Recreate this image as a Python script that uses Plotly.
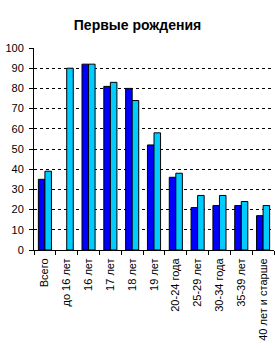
import plotly.graph_objects as go

categories = ["Всего", "до 16 лет", "16 лет", "17 лет", "18 лет", "19 лет",
              "20-24 года", "25-29 лет", "30-34 года", "35-39 лет", "40 лет и старше"]
series_a = [35, None, 92, 81, 80, 52, 36, 21, 22, 22, 17]
series_b = [39, 90, 92, 83, 74, 58, 38, 27, 27, 24, 22]
y_ticks = list(range(0, 101, 10))

fig = go.Figure()
fig.add_bar(x=categories, y=series_a, marker=dict(color="#0000FF", line=dict(color="black", width=1)))
fig.add_bar(x=categories, y=series_b, marker=dict(color="#00CCFF", line=dict(color="black", width=1)))

fig.update_layout(
    width=275, height=348,
    margin=dict(l=34, r=1, t=48, b=98),
    paper_bgcolor="white", plot_bgcolor="white",
    showlegend=False,
    barmode="group", bargap=0.4, bargroupgap=0,
    font=dict(family="Liberation Sans, Arial", size=11, color="black"),
    title=dict(text="<b>Первые рождения</b>", x=0.5, xanchor="center", y=0.928, yanchor="middle",
               font=dict(size=14, color="black")),
)
fig.update_xaxes(showline=True, linecolor="black", linewidth=1, ticks="outside", ticklen=4,
                 tickcolor="black", tickson="boundaries", tickangle=-90, showgrid=False,
                 ticklabelstandoff=3, tickfont=dict(size=11))
fig.update_yaxes(range=[0, 100], tickvals=y_ticks, showline=True, linecolor="black", linewidth=1,
                 ticks="outside", ticklen=4, tickcolor="black", showgrid=True, gridcolor="black",
                 griddash="3px,3px", gridwidth=1, zeroline=False, ticklabelstandoff=3,
                 tickfont=dict(size=11))

fig.write_html("out.html")
